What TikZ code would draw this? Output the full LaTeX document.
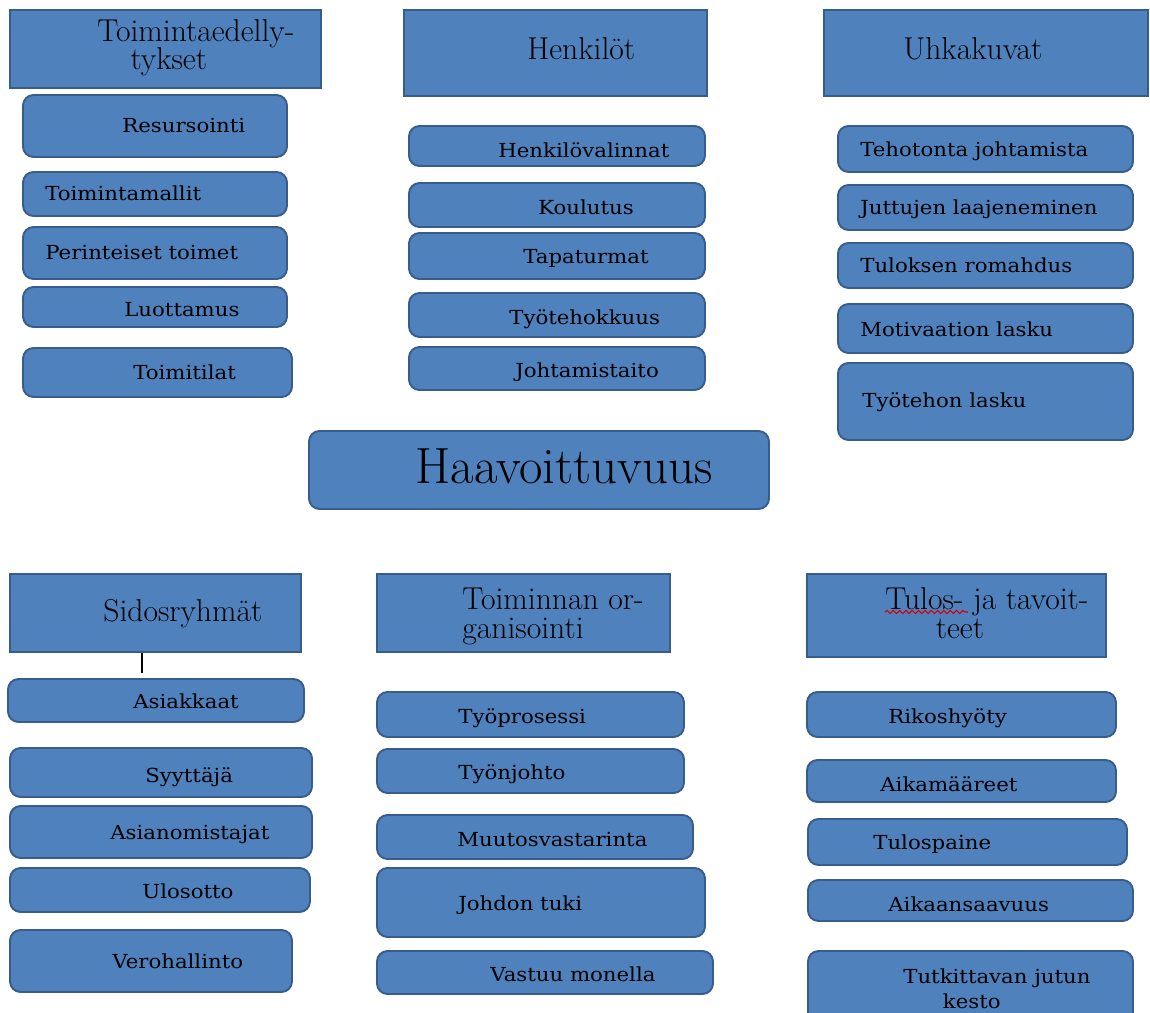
\documentclass[tikz,border=0pt]{standalone}
\usepackage{fontspec}
\newfontfamily\itemfont[FakeStretch=1.1]{DejaVu Serif}
\usetikzlibrary{fit,decorations.pathmorphing}
\definecolor{BoxBlue}{HTML}{4F81BD}
\definecolor{BoxEdge}{HTML}{385D8A}

\begin{document}
\begin{tikzpicture}[x=0.02cm,y=-0.02cm,
    head/.style={draw=BoxEdge,fill=BoxBlue,line width=1.1pt,inner sep=0pt},
    item/.style={head,rounded corners=6pt},
    headtext/.style={anchor=base west,inner sep=0pt,align=left,
                     font=\fontsize{18}{16.5}\selectfont},
    itemtext/.style={anchor=base west,inner sep=0pt,align=left,
                     font=\itemfont\fontsize{11}{14}\selectfont}]
    \clip (0,0) rectangle (1150,1013);
    \fill[white] (0,0) rectangle (1150,1013);

    % top headers
    \node[head,fit={(10,10)(321,88)}] (toim) {};
    \node[headtext] (toim-t) at (97,70) {Toimintaedelly-\\\hspace*{1.05em}tykset};
    \node[head,fit={(404,10)(707,96)}] (henk) {};
    \node[headtext] (henk-t) at (527,60) {Henkilöt};
    \node[head,fit={(824,10)(1148,96)}] (uhka) {};
    \node[headtext] (uhka-t) at (903,60) {Uhkakuvat};

    % Toimintaedellytykset
    \node[item,fit={(23,95)(287,157)}] (resurs) {};
    \node[itemtext] (resurs-t) at (122,133) {Resursointi};
    \node[item,fit={(23,172)(287,216)}] (malli) {};
    \node[itemtext] (malli-t) at (45,201) {Toimintamallit};
    \node[item,fit={(23,227)(287,279)}] (perint) {};
    \node[itemtext] (perint-t) at (45,260) {Perinteiset toimet};
    \node[item,fit={(23,287)(287,327)}] (luott) {};
    \node[itemtext] (luott-t) at (124,317) {Luottamus};
    \node[item,fit={(23,348)(292,397)}] (tilat) {};
    \node[itemtext] (tilat-t) at (133,380) {Toimitilat};

    % Henkilot
    \node[item,fit={(409,126)(705,166)}] (valinta) {};
    \node[itemtext] (valinta-t) at (498,158) {Henkilövalinnat};
    \node[item,fit={(409,183)(705,227)}] (koulu) {};
    \node[itemtext] (koulu-t) at (538,215) {Koulutus};
    \node[item,fit={(409,233)(705,279)}] (tapat) {};
    \node[itemtext] (tapat-t) at (523,264) {Tapaturmat};
    \node[item,fit={(409,293)(705,337)}] (tehokk) {};
    \node[itemtext] (tehokk-t) at (509,325) {Työtehokkuus};
    \node[item,fit={(409,347)(705,390)}] (johtot) {};
    \node[itemtext] (johtot-t) at (515,378) {Johtamistaito};

    % Uhkakuvat
    \node[item,fit={(838,126)(1133,172)}] (tehot) {};
    \node[itemtext] (tehot-t) at (860,157) {Tehotonta johtamista};
    \node[item,fit={(838,185)(1133,230)}] (jutut) {};
    \node[itemtext] (jutut-t) at (860,215) {Juttujen laajeneminen};
    \node[item,fit={(838,243)(1133,288)}] (romah) {};
    \node[itemtext] (romah-t) at (860,273) {Tuloksen romahdus};
    \node[item,fit={(838,304)(1133,353)}] (motiv) {};
    \node[itemtext] (motiv-t) at (860,337) {Motivaation lasku};
    \node[item,fit={(838,363)(1133,440)}] (tyolas) {};
    \node[itemtext] (tyolas-t) at (862,408) {Työtehon lasku};

    % centre
    \node[item,fit={(309,431)(769,509)}] (haav) {};
    \node[anchor=base west,inner sep=0pt,font=\fontsize{29}{30}\selectfont] (haav-t) at (415,483) {Haavoittuvuus};

    % bottom headers
    \node[head,fit={(10,574)(301,652)}] (sido) {};
    \node[headtext] (sido-t) at (103,622) {Sidosryhmät};
    \node[head,fit={(377,574)(670,652)}] (orga) {};
    \node[headtext] (orga-t) at (462,638) {Toiminnan or-\\ganisointi};
    \node[head,fit={(807,574)(1106,657)}] (tulos) {};
    \node[headtext] (tulos-t) at (885,638) {Tulos- ja tavoit-\\\hspace*{1.6em}teet};
    \draw[red!85!black,line width=0.6pt,decorate,
          decoration={snake,amplitude=0.9pt,segment length=3.6pt}] (885,612) -- (968,612);
    \coordinate (tick) at (142,673);
    \draw[line width=0.8pt] (sido.south -| tick) -- (tick);

    % Sidosryhmat
    \node[item,fit={(8,679)(304,722)}] (asiak) {};
    \node[itemtext] (asiak-t) at (133,708) {Asiakkaat};
    \node[item,fit={(10,748)(312,797)}] (syytt) {};
    \node[itemtext] (syytt-t) at (145,782) {Syyttäjä};
    \node[item,fit={(10,806)(312,858)}] (asian) {};
    \node[itemtext] (asian-t) at (110,839) {Asianomistajat};
    \node[item,fit={(10,868)(310,912)}] (ulos) {};
    \node[itemtext] (ulos-t) at (142,898) {Ulosotto};
    \node[item,fit={(10,930)(292,992)}] (vero) {};
    \node[itemtext] (vero-t) at (112,968) {Verohallinto};

    % Toiminnan organisointi
    \node[item,fit={(377,692)(684,737)}] (prosessi) {};
    \node[itemtext] (prosessi-t) at (458,723) {Työprosessi};
    \node[item,fit={(377,749)(684,793)}] (tyonj) {};
    \node[itemtext] (tyonj-t) at (458,779) {Työnjohto};
    \node[item,fit={(377,815)(693,859)}] (muutos) {};
    \node[itemtext] (muutos-t) at (457,846) {Muutosvastarinta};
    \node[item,fit={(377,868)(705,937)}] (tuki) {};
    \node[itemtext] (tuki-t) at (458,910) {Johdon tuki};
    \node[item,fit={(377,951)(713,994)}] (vastuu) {};
    \node[itemtext] (vastuu-t) at (490,981) {Vastuu monella};

    % Tulos- ja tavoitteet
    \node[item,fit={(807,692)(1116,737)}] (hyoty) {};
    \node[itemtext] (hyoty-t) at (888,723) {Rikoshyöty};
    \node[item,fit={(807,760)(1116,802)}] (maar) {};
    \node[itemtext] (maar-t) at (880,791) {Aikamääreet};
    \node[item,fit={(808,819)(1127,865)}] (paine) {};
    \node[itemtext] (paine-t) at (873,849) {Tulospaine};
    \node[item,fit={(808,880)(1133,921)}] (saav) {};
    \node[itemtext] (saav-t) at (888,911) {Aikaansaavuus};
    \node[item,fit={(808,951)(1133,1040)}] (kesto) {};
    \node[itemtext] (kesto-t) at (903,1008) {Tutkittavan jutun\\\hspace*{2.05em}kesto};
\end{tikzpicture}
\end{document}
